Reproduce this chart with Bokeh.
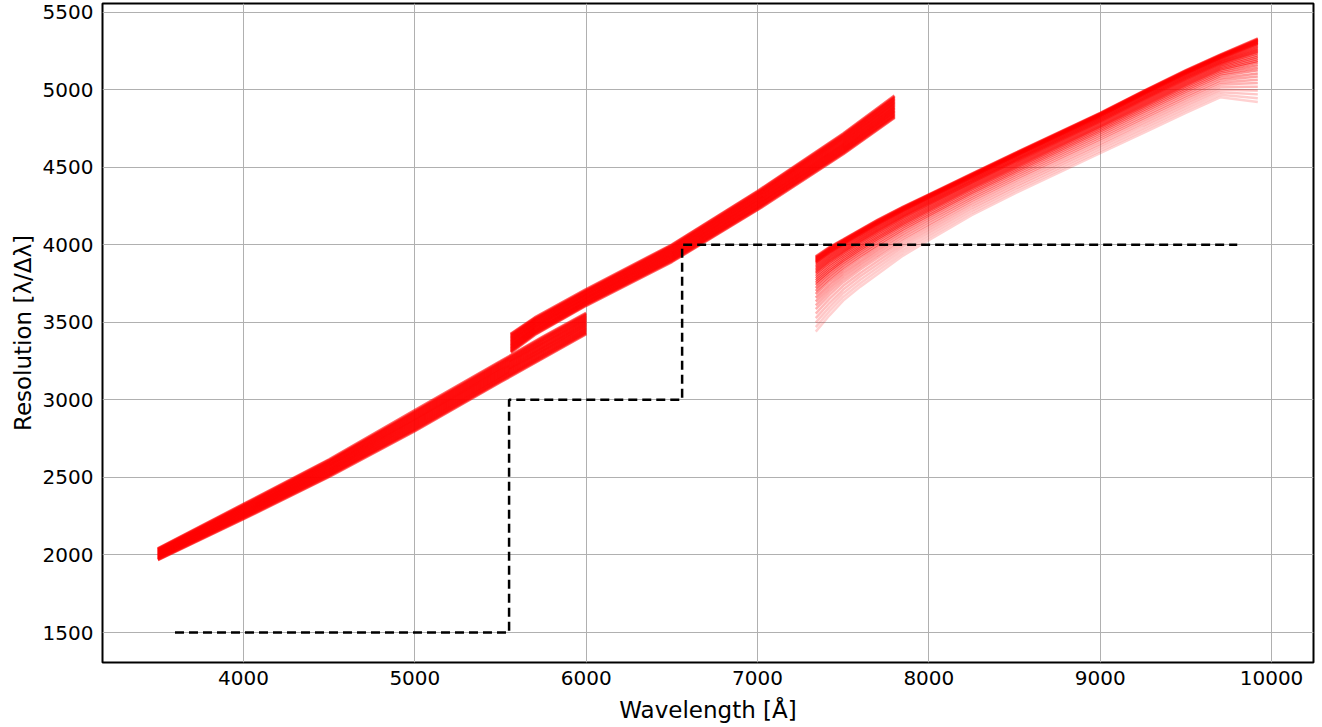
from bokeh.plotting import figure
from bokeh.models import FixedTicker, Range1d
from bokeh.embed import file_html
from bokeh.resources import INLINE

# ---- data ----
# Blue arm envelope (lower / upper edge of the fibre bundle)
blue_wave = [3500, 4000, 4500, 5000, 5500, 5750, 6000]
blue_lo = [1968, 2232, 2505, 2800, 3115, 3270, 3425]
blue_hi = [2042, 2328, 2615, 2932, 3248, 3408, 3560]

# Red arm envelope
red_wave = [5560, 5700, 6000, 6500, 7000, 7500, 7800]
red_lo = [3305, 3420, 3608, 3890, 4225, 4585, 4820]
red_hi = [3425, 3530, 3712, 4000, 4345, 4715, 4960]

# NIR arm envelope
nir_wave = [7340, 7420, 7500, 7600, 7700, 7850, 8000, 8250, 8500, 9000, 9250,
            9500, 9700, 9920]
nir_lo = [3440, 3545, 3640, 3730, 3810, 3930, 4030, 4190, 4330, 4590, 4720,
          4850, 4950, 4920]
nir_hi = [3925, 3985, 4035, 4098, 4160, 4245, 4325, 4458, 4590, 4850, 4990,
          5125, 5225, 5330]

# relative position of each fibre inside its bundle (0 = lower edge, 1 = upper edge)
fibre_pos_br = [0.0, 0.05, 0.1, 0.15, 0.2, 0.25, 0.3, 0.35, 0.4, 0.45, 0.5, 0.55,
                0.6, 0.65, 0.7, 0.75, 0.8, 0.85, 0.9, 0.95, 1.0]
fibre_pos_nir = [0.0, 0.06, 0.12, 0.18, 0.24, 0.3, 0.35, 0.4, 0.45, 0.5, 0.54,
                 0.58, 0.62, 0.65, 0.68, 0.71, 0.74, 0.77, 0.79, 0.81, 0.83,
                 0.85, 0.87, 0.89, 0.91, 0.92, 0.93, 0.94, 0.95, 0.96, 0.97,
                 0.98, 0.99, 1.0]
fibre_alpha_nir = [0.18, 0.2, 0.22, 0.25, 0.28, 0.3, 0.33, 0.36, 0.4, 0.43, 0.46,
                   0.5, 0.52, 0.55, 0.55, 0.55, 0.55, 0.55, 0.55, 0.55, 0.55,
                   0.55, 0.55, 0.55, 0.55, 0.55, 0.55, 0.55, 0.55, 0.55, 0.55,
                   0.55, 0.55, 0.55]

# requirement (dashed step)
req_wave = [3600, 5550, 6560, 9800]
req_res = [1500, 3000, 4000, 4000]

x_ticks = [4000, 5000, 6000, 7000, 8000, 9000, 10000]
y_ticks = [1500, 2000, 2500, 3000, 3500, 4000, 4500, 5000, 5500]

FONT = "DejaVu Sans"

p = figure(width=1322, height=727, output_backend="svg", toolbar_location=None,
           x_range=Range1d(3177, 10245), y_range=Range1d(1307, 5555),
           min_border_left=102, min_border_right=9, min_border_top=3,
           min_border_bottom=65)

p.outline_line_color = "black"
p.outline_line_width = 2
p.background_fill_color = "white"
p.border_fill_color = "white"


def bundle(wave, lo, hi, fracs):
    xs, ys = [], []
    for f in fracs:
        xs.append(wave)
        ys.append([l + f * (h - l) for l, h in zip(lo, hi)])
    return xs, ys


for wave, lo, hi in [(blue_wave, blue_lo, blue_hi), (red_wave, red_lo, red_hi)]:
    xs, ys = bundle(wave, lo, hi, fibre_pos_br)
    p.multi_line(xs, ys, line_color="#ff0000", line_alpha=0.6, line_width=3)

xs, ys = bundle(nir_wave, nir_lo, nir_hi, fibre_pos_nir)
p.multi_line(xs=xs, ys=ys, line_color="#ff0000", line_alpha=fibre_alpha_nir,
             line_width=2.5)

p.step(req_wave, req_res, mode="after", line_color="black", line_width=2.5,
       line_dash="9 5")

for ax in (p.xaxis, p.yaxis):
    ax.axis_line_color = None
    ax.major_tick_line_color = None
    ax.minor_tick_line_color = None
    ax.major_tick_out = 0
    ax.major_tick_in = 0
    ax.major_label_text_font = FONT
    ax.major_label_text_font_size = "20px"
    ax.major_label_text_color = "black"
    ax.axis_label_text_font = FONT
    ax.axis_label_text_font_size = "23px"
    ax.axis_label_text_font_style = "normal"
    ax.axis_label_text_color = "black"

p.xaxis.ticker = FixedTicker(ticks=x_ticks)
p.yaxis.ticker = FixedTicker(ticks=y_ticks)
p.xaxis.axis_label = "Wavelength [Å]"
p.yaxis.axis_label = "Resolution [λ/Δλ]"
p.xaxis.major_label_standoff = 8
p.xaxis.axis_label_standoff = 9
p.yaxis.major_label_standoff = 9
p.yaxis.axis_label_standoff = 4

for g in (p.xgrid, p.ygrid):
    g.grid_line_color = "#b0b0b0"
    g.grid_line_width = 1
p.xgrid.ticker = FixedTicker(ticks=x_ticks)
p.ygrid.ticker = FixedTicker(ticks=y_ticks)

open("out.html", "w").write(file_html(p, INLINE))
